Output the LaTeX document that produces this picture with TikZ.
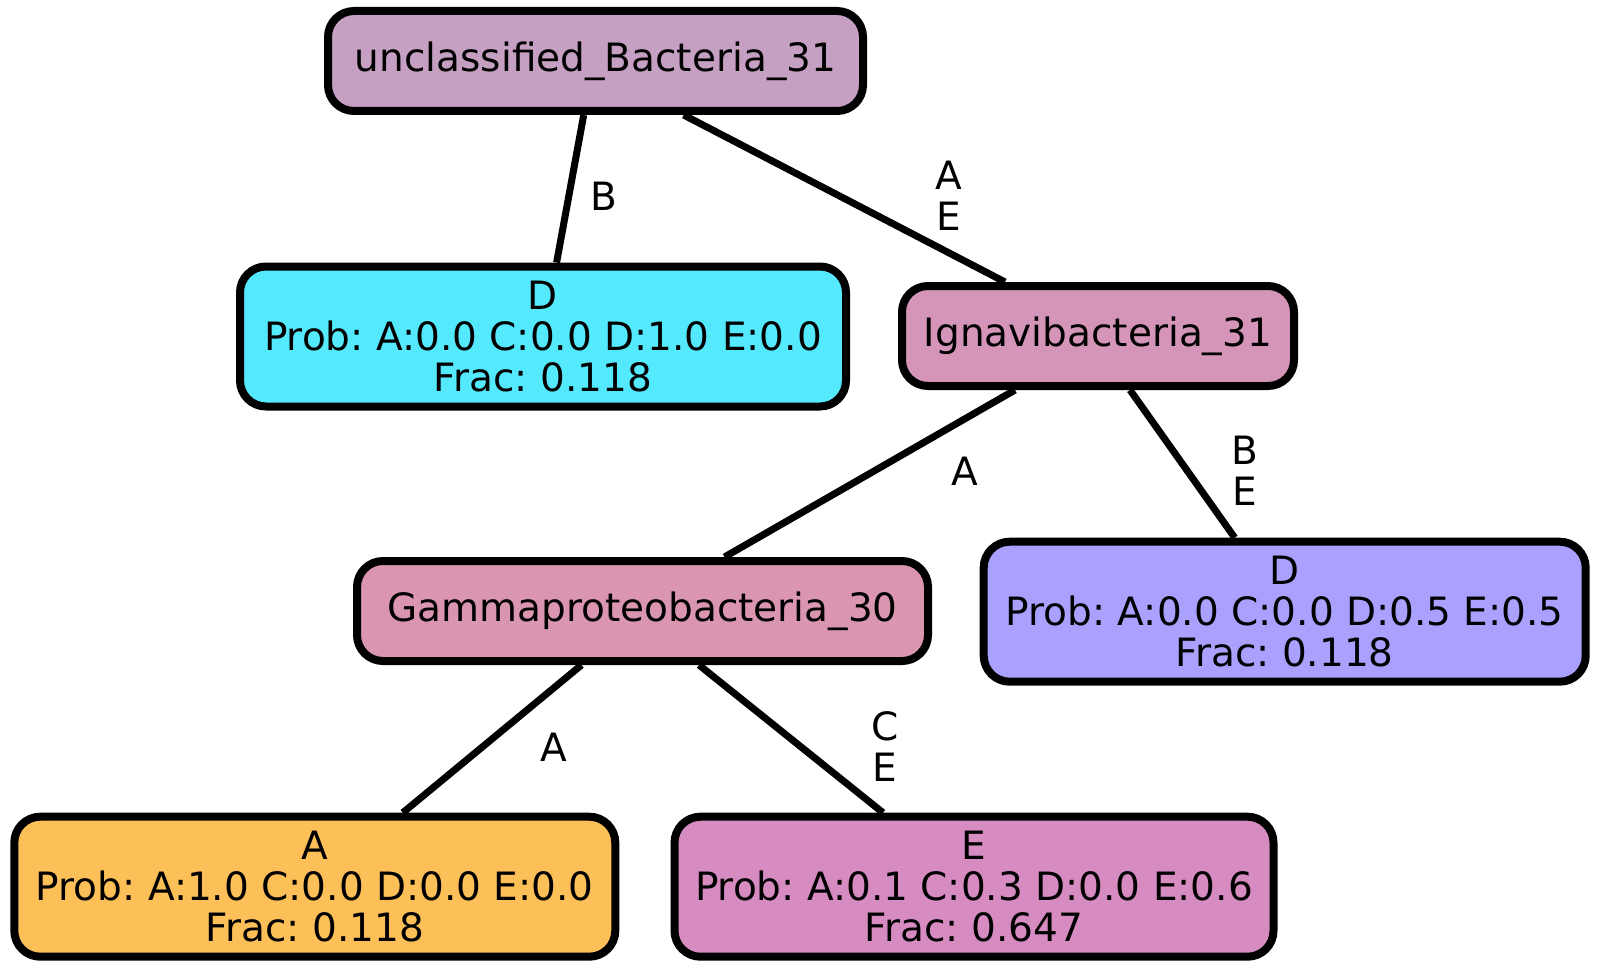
\documentclass[tikz,border=0pt]{standalone}
\usepackage{fontspec}
\setmainfont{DejaVu Sans}
\usetikzlibrary{calc}
\definecolor{cU}{HTML}{C6A0C3}
\definecolor{cCy}{HTML}{55E9FD}
\definecolor{cIg}{HTML}{D495B9}
\definecolor{cGa}{HTML}{DA95B1}
\definecolor{cPu}{HTML}{AAA1FF}
\definecolor{cOr}{HTML}{FDBF58}
\definecolor{cE}{HTML}{D68CC1}
\tikzset{
  box/.style={draw=black, line width=8pt, rounded corners=26pt, inner sep=0pt, align=center,
    font=\fontsize{39}{41}\selectfont\frenchspacing},
  edge/.style={draw=black, line width=7pt},
  lbl/.style={align=center, font=\fontsize{39}{41}\selectfont, inner sep=0pt}
}
\begin{document}
\begin{tikzpicture}[x=1pt,y=-1pt]
\useasboundingbox (0,0) rectangle (1600,971);
\node[box, fill=cU, minimum width=535pt, minimum height=100pt] (u) at (595.5,61) {unclassified\_Bacteria\_31};
\node[box, fill=cCy, minimum width=606pt, minimum height=140pt] (d1) at (543,336.5) {D\\Prob: A:0.0 C:0.0 D:1.0 E:0.0\\Frac: 0.118};
\node[box, fill=cIg, minimum width=392pt, minimum height=100pt] (ig) at (1098,336) {Ignavibacteria\_31};
\node[box, fill=cGa, minimum width=571pt, minimum height=100pt] (ga) at (642.5,611) {Gammaproteobacteria\_30};
\node[box, fill=cPu, minimum width=602pt, minimum height=140pt] (dp) at (1284.7,611.7) {D\\Prob: A:0.0 C:0.0 D:0.5 E:0.5\\Frac: 0.118};
\node[box, fill=cOr, minimum width=601pt, minimum height=140pt] (a) at (314.8,886.7) {A\\Prob: A:1.0 C:0.0 D:0.0 E:0.0\\Frac: 0.118};
\node[box, fill=cE, minimum width=599pt, minimum height=140pt] (e) at (974,886.7) {E\\Prob: A:0.1 C:0.3 D:0.0 E:0.6\\Frac: 0.647};

\draw[edge] ([xshift=-11.8pt]u.south) -- ([xshift=13.6pt]d1.north);
\draw[edge] ([xshift=88.2pt]u.south) -- ([xshift=-93pt]ig.north);
\draw[edge] ([xshift=-83pt]ig.south) -- ([xshift=82pt]ga.north);
\draw[edge] ([xshift=32pt]ig.south) -- ([xshift=-50pt]dp.north);
\draw[edge] ([xshift=-61pt]ga.south) -- ([xshift=88pt]a.north);
\draw[edge] ([xshift=56.5pt]ga.south) -- ([xshift=-91pt]e.north);

\node[lbl] (l1) at (604,196) {B};
\node[lbl] (l2) at (949,196) {A\\E};
\node[lbl] (l3) at (964.5,471) {A};
\node[lbl] (l4) at (1245,471) {B\\E};
\node[lbl] (l5) at (554,747) {A};
\node[lbl] (l6) at (885,747) {C\\E};
\end{tikzpicture}
\end{document}
